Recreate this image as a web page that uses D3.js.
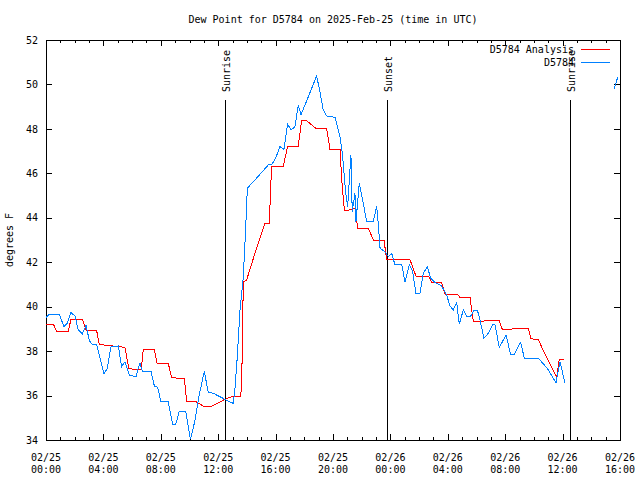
<!DOCTYPE html>
<html>
<head>
<meta charset="utf-8">
<script src="https://cdn.jsdelivr.net/npm/d3@7"></script>
<style>
  html, body { margin: 0; padding: 0; background: #fff; }
  svg { display: block; }
  text { font-family: "DejaVu Sans Mono", monospace; font-size: 10px; fill: #000; }
</style>
</head>
<body>
<svg id="chart" width="640" height="480"></svg>
<script>
// ---- data (hours since 2025-02-25 00:00 UTC, degrees F) ----
const titleText = "Dew Point for D5784 on 2025-Feb-25 (time in UTC)";
const yLabel = "degrees F";
const xDomainHours = [0, 40];
const yDomain = [34, 52];
const yTicks = [34, 36, 38, 40, 42, 44, 46, 48, 50, 52];
const xMajorTicks = [0, 4, 8, 12, 16, 20, 24, 28, 32, 36, 40];
const xTickDates = ["02/25", "02/25", "02/25", "02/25", "02/25", "02/25", "02/26", "02/26", "02/26", "02/26", "02/26"];
const xTickTimes = ["00:00", "04:00", "08:00", "12:00", "16:00", "20:00", "00:00", "04:00", "08:00", "12:00", "16:00"];
const xMinorTicks = d3.range(0, 41, 1);

const analysisName = "D5784 Analysis";
const analysisHours = [0, 0.51, 0.74, 1.55, 1.74, 2.53, 2.79, 3.53, 3.72, 5.5, 5.78, 6.64, 6.78, 7.55, 7.74, 8.52, 8.76, 9.64, 9.8, 10.38, 10.96, 11.55, 12.47, 12.94, 13.57, 13.64, 13.75, 13.98, 14.56, 15.26, 15.56, 15.72, 16.54, 16.84, 17.58, 17.82, 18.1, 18.86, 19.56, 19.79, 20.49, 20.6, 20.79, 21.12, 21.53, 21.72, 22.46, 22.81, 23.55, 23.74, 25.37, 25.78, 26.64, 26.88, 27.57, 27.8, 28.66, 28.85, 29.55, 29.78, 30.66, 31.59, 31.8, 33.61, 33.8, 34.31, 34.61, 35.59, 35.77, 36.12];
const analysisValues = [39.22, 39.22, 38.9, 38.9, 39.43, 39.43, 38.95, 38.92, 38.3, 38.17, 37.2, 37.18, 38.08, 38.08, 37.45, 37.45, 36.8, 36.77, 35.75, 35.75, 35.53, 35.53, 35.83, 35.95, 35.95, 36.62, 41.12, 41.2, 42.4, 43.75, 43.75, 46.33, 46.33, 47.23, 47.23, 48.4, 48.4, 48.0, 48.0, 47.08, 47.08, 45.77, 44.35, 44.35, 44.43, 43.53, 43.53, 43.0, 43.0, 42.13, 42.1, 41.38, 41.38, 41.1, 41.1, 40.57, 40.57, 40.42, 40.42, 39.32, 39.36, 39.36, 38.98, 39.02, 38.55, 38.53, 38.08, 36.82, 37.63, 37.63];

const obsName = "D5784";
const obsHours = [0, 0.23, 0.93, 1.25, 1.48, 1.74, 2.02, 2.25, 2.53, 2.79, 3.02, 3.25, 3.53, 3.76, 4.04, 4.27, 4.53, 5.04, 5.27, 5.5, 5.81, 6.27, 6.5, 6.55, 6.71, 7.32, 7.55, 7.78, 8.01, 8.52, 8.83, 9.04, 9.29, 9.73, 10.06, 10.38, 10.68, 11.03, 11.31, 11.66, 12.47, 12.94, 13.05, 13.17, 13.33, 13.52, 13.75, 13.91, 14.03, 14.56, 15.49, 15.72, 16.0, 16.3, 16.58, 16.84, 17.07, 17.35, 17.58, 17.77, 18.86, 19.09, 19.32, 19.56, 20.14, 20.49, 20.65, 20.79, 20.89, 21.02, 21.25, 21.34, 21.53, 21.6, 21.83, 22.11, 22.35, 22.81, 23.04, 23.15, 23.28, 23.62, 23.86, 24.09, 24.32, 24.79, 25.02, 25.32, 25.55, 25.78, 26.06, 26.29, 26.57, 26.81, 27.11, 27.57, 27.92, 28.15, 28.38, 28.62, 28.8, 29.08, 29.32, 29.6, 29.83, 30.06, 30.24, 30.52, 30.82, 31.13, 31.29, 31.59, 31.87, 32.06, 32.38, 32.61, 33.08, 33.33, 34.31, 34.94, 35.54, 35.82, 36.17, 37.5, 39.6, 39.85];
const obsValues = [39.52, 39.66, 39.66, 39.1, 39.25, 39.73, 39.58, 38.95, 38.77, 39.16, 38.47, 38.28, 38.28, 37.68, 36.97, 37.22, 38.2, 38.23, 37.3, 37.52, 36.92, 36.85, 37.38, 37.45, 37.09, 37.09, 36.43, 36.37, 35.72, 35.72, 34.7, 34.7, 35.3, 35.3, 34.03, 34.87, 36.03, 37.08, 36.15, 36.1, 35.83, 35.68, 35.65, 36.33, 37.75, 39.85, 41.35, 43.45, 45.33, 45.7, 46.38, 46.38, 46.68, 47.2, 47.08, 48.22, 47.95, 48.1, 49.08, 48.63, 50.38, 49.68, 48.85, 48.58, 48.52, 47.65, 46.9, 45.85, 45.1, 44.5, 46.83, 44.28, 45.1, 43.82, 45.55, 44.65, 43.82, 43.82, 44.53, 43.75, 42.63, 42.47, 42.25, 42.4, 41.88, 41.88, 41.12, 41.88, 41.58, 40.6, 40.6, 41.5, 41.8, 41.28, 41.08, 40.93, 40.53, 40.03, 39.85, 40.18, 39.22, 39.85, 39.58, 39.58, 39.85, 39.85, 39.4, 38.58, 38.8, 39.18, 39.18, 38.17, 38.5, 38.73, 37.83, 37.83, 38.4, 37.68, 37.68, 37.22, 36.58, 37.52, 36.55, null, 49.8, 50.35];

const eventHours = [12.47, 23.76, 36.52];
const eventLabels = ["Sunrise", "Sunset", "Sunrise"];

// ---- layout ----
const svg = d3.select("#chart");
const plot = { left: 46, right: 620, top: 40, bottom: 440 };
const x = d3.scaleLinear().domain(xDomainHours).range([plot.left, plot.right]);
const y = d3.scaleLinear().domain(yDomain).range([plot.bottom, plot.top]);
const colorAnalysis = "#ff0000";
const colorObs = "#0080ff";

svg.append("rect").attr("width", 640).attr("height", 480).attr("fill", "#fff");

// title
svg.append("text")
  .attr("x", (plot.left + plot.right) / 2).attr("y", 23)
  .attr("text-anchor", "middle").text(titleText);

// y label
svg.append("text")
  .attr("transform", `translate(13,${(plot.top + plot.bottom) / 2}) rotate(-90)`)
  .attr("text-anchor", "middle").text(yLabel);

function cleanAxis(g) {
  g.select(".domain").remove();
  g.selectAll(".tick line").attr("stroke", "#000").attr("shape-rendering", "crispEdges");
  g.selectAll(".tick text").attr("font-family", null).attr("font-size", null).attr("fill", "#000");
  g.attr("font-family", null).attr("font-size", null);
}

// x ticks (bottom/top, major and minor, inward)
svg.append("g").attr("transform", `translate(0,${plot.bottom})`)
  .call(d3.axisBottom(x).tickValues(xMinorTicks).tickSize(-3).tickFormat("")).call(cleanAxis);
svg.append("g").attr("transform", `translate(0,${plot.bottom})`)
  .call(d3.axisBottom(x).tickValues(xMajorTicks).tickSize(-6).tickFormat("")).call(cleanAxis);
svg.append("g").attr("transform", `translate(0,${plot.top})`)
  .call(d3.axisTop(x).tickValues(xMinorTicks).tickSize(-3).tickFormat("")).call(cleanAxis);
svg.append("g").attr("transform", `translate(0,${plot.top})`)
  .call(d3.axisTop(x).tickValues(xMajorTicks).tickSize(-6).tickFormat("")).call(cleanAxis);

// x tick labels (two lines)
const xl = svg.append("g");
xMajorTicks.forEach((h, i) => {
  xl.append("text").attr("x", x(h)).attr("y", 461).attr("text-anchor", "middle").text(xTickDates[i]);
  xl.append("text").attr("x", x(h)).attr("y", 473).attr("text-anchor", "middle").text(xTickTimes[i]);
});

// y ticks
svg.append("g").attr("transform", `translate(${plot.left},0)`)
  .call(d3.axisLeft(y).tickValues(yTicks).tickSize(-6).tickPadding(8).tickFormat(d3.format("d"))).call(cleanAxis);
svg.append("g").attr("transform", `translate(${plot.right},0)`)
  .call(d3.axisRight(y).tickValues(yTicks).tickSize(-6).tickFormat("")).call(cleanAxis);

// border
svg.append("rect")
  .attr("x", plot.left + 0.5).attr("y", plot.top + 0.5)
  .attr("width", plot.right - plot.left).attr("height", plot.bottom - plot.top)
  .attr("fill", "none").attr("stroke", "#000").attr("shape-rendering", "crispEdges");

// event lines
const evTop = yDomain[0] + 0.85 * (yDomain[1] - yDomain[0]);
const evLabelPos = yDomain[0] + 0.87 * (yDomain[1] - yDomain[0]);
eventHours.forEach((h, i) => {
  svg.append("line")
    .attr("x1", Math.round(x(h)) + 0.5).attr("x2", Math.round(x(h)) + 0.5)
    .attr("y1", y(evTop)).attr("y2", y(yDomain[0]))
    .attr("stroke", "#000").attr("stroke-width", 1).attr("shape-rendering", "crispEdges");
  svg.append("text")
    .attr("transform", `translate(${Math.round(x(h)) + 1},${y(evLabelPos)}) rotate(-90)`)
    .attr("dy", "0.35em").attr("text-anchor", "start").text(eventLabels[i]);
});

// series
svg.append("clipPath").attr("id", "clip").append("rect")
  .attr("x", plot.left).attr("y", plot.top)
  .attr("width", plot.right - plot.left).attr("height", plot.bottom - plot.top);

const line = d3.line().defined(d => d.v != null).x(d => x(d.h)).y(d => y(d.v));
const analysisData = analysisHours.map((h, i) => ({ h, v: analysisValues[i] }));
const obsData = obsHours.map((h, i) => ({ h, v: obsValues[i] }));

svg.append("path").datum(analysisData).attr("d", line)
  .attr("fill", "none").attr("stroke", colorAnalysis).attr("stroke-width", 1)
  .attr("shape-rendering", "crispEdges").attr("clip-path", "url(#clip)");
svg.append("path").datum(obsData).attr("d", line)
  .attr("fill", "none").attr("stroke", colorObs).attr("stroke-width", 1)
  .attr("shape-rendering", "crispEdges").attr("clip-path", "url(#clip)");

// legend
const legend = [
  { name: analysisName, color: colorAnalysis, yc: 49.5 },
  { name: obsName, color: colorObs, yc: 62.5 }
];
legend.forEach(l => {
  svg.append("text").attr("x", 574).attr("y", l.yc).attr("dy", "0.35em")
    .attr("text-anchor", "end").text(l.name);
  svg.append("line").attr("x1", 581).attr("x2", 610).attr("y1", l.yc).attr("y2", l.yc)
    .attr("stroke", l.color).attr("stroke-width", 1).attr("shape-rendering", "crispEdges");
});
</script>
</body>
</html>
